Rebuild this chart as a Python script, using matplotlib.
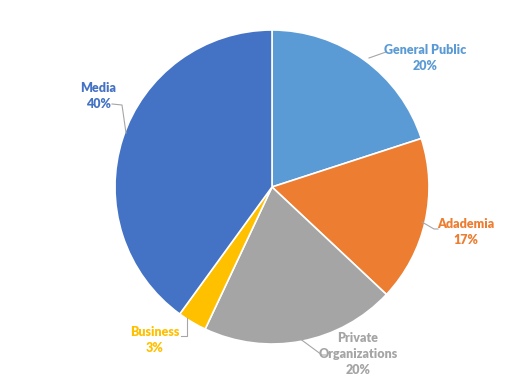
import matplotlib
matplotlib.use("Agg")
import matplotlib.pyplot as plt

labels = ["General Public", "Adademia", "Private\nOrganizations", "Business", "Media"]
values = [20, 17, 20, 3, 40]
colors = ["#5B9BD5", "#ED7D31", "#A5A5A5", "#FFC000", "#4472C4"]

H = 376
fig = plt.figure(figsize=(5.2, 3.76), dpi=100)
ax = fig.add_axes([0, 0, 1, 1])

ax.pie(values, colors=colors, startangle=90, counterclock=False,
       center=(272, H - 187), radius=157,
       wedgeprops=dict(edgecolor="white", linewidth=1.2), frame=True)
ax.set_xlim(0, 520)
ax.set_ylim(0, H)
ax.set_aspect("equal")
ax.axis("off")

# label positions (image px) and leader lines
label_pos = [(425, 58), (466, 232), (358, 354), (155, 340), (98, 96)]
leaders = [
    [(369, 58), (386, 52)],
    [(422, 222), (434, 229), (438, 229)],
    [(299, 338), (322, 355), (326, 355)],
    [(187, 318), (187, 336), (181, 336)],
    [(112, 104), (122, 105), (126, 133)],
]
for lab, v, c, (x, y), ld in zip(labels, values, colors, label_pos, leaders):
    ax.text(x, H - y, f"{lab}\n{v}%", color=c, ha="center", va="center",
            fontsize=9, fontweight="heavy", family=["Lato", "DejaVu Sans"],
            linespacing=1.35)
    xs = [p[0] for p in ld]
    ys = [H - p[1] for p in ld]
    ax.plot(xs, ys, color="#A6A6A6", linewidth=0.8)

fig.savefig("out.png", dpi=100, facecolor="white")
